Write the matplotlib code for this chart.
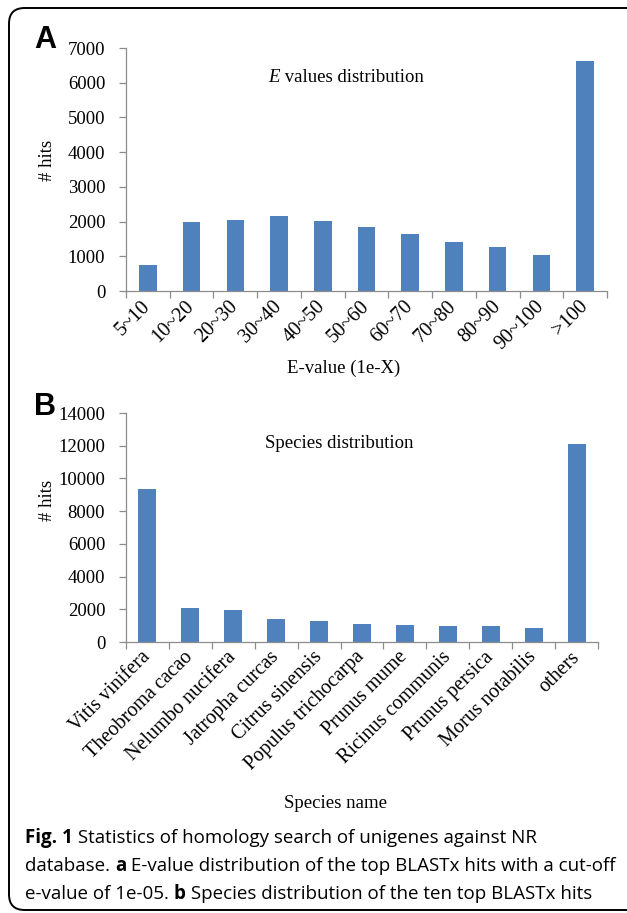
import numpy as np
import matplotlib.pyplot as plt
from matplotlib.patches import FancyBboxPatch

# E-value bins (1e-X) and hit counts
evalue_bins = ["5~10", "10~20", "20~30", "30~40", "40~50", "50~60",
               "60~70", "70~80", "80~90", "90~100", ">100"]
evalue_hits = [750, 2000, 2050, 2170, 2020, 1855, 1635, 1425, 1270, 1040, 6615]

# Top species and hit counts
species = ["Vitis vinifera", "Theobroma cacao", "Nelumbo nucifera",
           "Jatropha curcas", "Citrus sinensis", "Populus trichocarpa",
           "Prunus mume", "Ricinus communis", "Prunus persica",
           "Morus notabilis", "others"]
species_hits = [9340, 2100, 1980, 1430, 1285, 1080, 1025, 985, 985, 860, 12130]

W, H = 627, 913
BAR = "#4F81BD"
AXC = "#8C8C8C"
SERIF = "Liberation Serif"
FS = 13.5

fig = plt.figure(figsize=(W / 100, H / 100), dpi=100)
fig.patch.set_facecolor("white")
renderer = fig.canvas.get_renderer()


def px(x, y):
    return x / W, 1 - y / H


def make_runs(runs, **kw):
    return [fig.text(0, 0, s, va="center", ha="left", **kw, **extra)
            for s, extra in runs]


def place_runs(texts, x, y, center=False):
    """Lay text pieces side by side; x/y in pixels from the top-left corner."""
    widths = [t.get_window_extent(renderer).width for t in texts]
    x0 = x - sum(widths) / 2 if center else x
    for t, w in zip(texts, widths):
        t.set_position(px(x0, y))
        x0 += w
    return sum(widths)


def bar_panel(rect, labels, values, ymax, ystep, width):
    ax = fig.add_axes(rect)
    x = np.arange(len(labels))
    ax.bar(x, values, width=width, color=BAR, zorder=2)
    ax.set_xlim(-0.5, len(labels) - 0.5)
    ax.set_ylim(0, ymax)
    ax.set_yticks(np.arange(0, ymax + 1, ystep))
    ax.set_xticks(x)
    ax.set_xticks(np.arange(-0.5, len(labels)), minor=True)
    ax.tick_params(axis="x", which="major", length=0, pad=9)
    ax.tick_params(axis="x", which="minor", length=5, width=0.9, color=AXC,
                   direction="out")
    ax.tick_params(axis="y", length=5, width=0.9, color=AXC, pad=10)
    for s in ("top", "right"):
        ax.spines[s].set_visible(False)
    for s in ("left", "bottom"):
        ax.spines[s].set_color(AXC)
        ax.spines[s].set_linewidth(0.9)
    for t in ax.get_yticklabels():
        t.set_fontfamily(SERIF)
        t.set_fontsize(FS)
    ax.set_xticklabels(labels, rotation=45, ha="right", va="center",
                       rotation_mode="anchor", fontfamily=SERIF, fontsize=14.5)
    return ax


# Panel A: E-value distribution
ax_a = bar_panel([126 / W, 1 - 291 / H, 481 / W, 243 / H],
                 evalue_bins, evalue_hits, 7000, 1000, 0.40)
place_runs(make_runs([("E", dict(style="italic")), (" values distribution", {})],
                     fontfamily=SERIF, fontsize=FS), 346, 77, center=True)
fig.text(*px(344, 368), "E-value (1e-X)", ha="center", va="center",
         fontfamily=SERIF, fontsize=FS)
fig.text(*px(48, 160), "# hits", ha="center", va="center", rotation=90,
         fontfamily=SERIF, fontsize=FS)

# Panel B: species distribution
ax_b = bar_panel([126 / W, 1 - 642 / H, 472 / W, 229 / H],
                 species, species_hits, 14000, 2000, 0.42)
fig.text(*px(339, 443), "Species distribution", ha="center", va="center",
         fontfamily=SERIF, fontsize=FS)
fig.text(*px(336, 803), "Species name", ha="center", va="center",
         fontfamily=SERIF, fontsize=FS)
fig.text(*px(48, 500), "# hits", ha="center", va="center", rotation=90,
         fontfamily=SERIF, fontsize=FS)

# Panel letters
fig.text(*px(34, 40), "A", ha="left", va="center", fontfamily="Liberation Sans",
         fontweight="bold", fontsize=22)
fig.text(*px(34, 407), "B", ha="left", va="center", fontfamily="Liberation Sans",
         fontweight="bold", fontsize=22)

# Caption: three lines, font size chosen so the lines fill the text block
bold = dict(fontweight="bold")
caption = [
    [("Fig. 1", bold), (" Statistics of homology search of unigenes against NR", {})],
    [("database. ", {}), ("a", bold),
     (" E-value distribution of the top BLASTx hits with a cut-off", {})],
    [("e-value of 1e-05. ", {}), ("b", bold),
     (" Species distribution of the ten top BLASTx hits", {})],
]
line_ends = [537, 610, 593]
line_y = [838, 866, 894]
cap_lines = [make_runs(r, fontfamily="Open Sans", fontsize=12) for r in caption]
measured = sum(place_runs(t, 25, y) for t, y in zip(cap_lines, line_y))
cap_size = 12 * sum(e - 25 for e in line_ends) / measured
for texts, y in zip(cap_lines, line_y):
    for t in texts:
        t.set_fontsize(cap_size)
    place_runs(texts, 25, y)

# Rounded frame around the figure
frame = FancyBboxPatch((9 / W, 1 - 910 / H), 640 / W, 902 / H,
                       boxstyle="round,pad=0,rounding_size=0.025",
                       transform=fig.transFigure, fill=False,
                       edgecolor="black", linewidth=1.4, mutation_aspect=W / H)
fig.patches.append(frame)

fig.savefig("out.png", dpi=100)
